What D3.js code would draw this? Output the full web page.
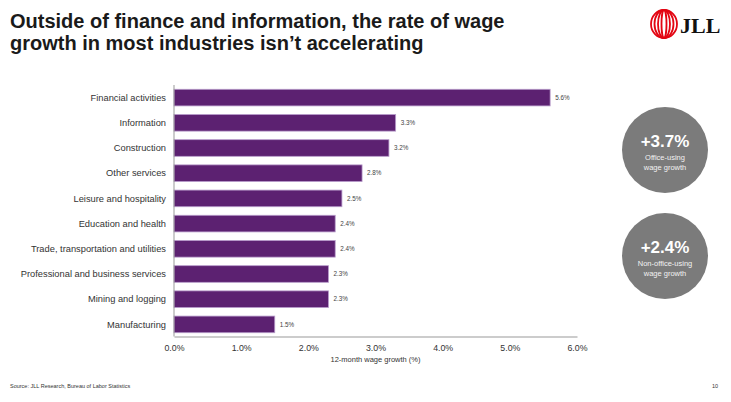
<!DOCTYPE html>
<html>
<head>
<meta charset="utf-8">
<script src="https://cdn.jsdelivr.net/npm/d3@7"></script>
<style>
  body { margin: 0; background: #fff; }
</style>
</head>
<body>
<div id="chart"></div>
<script>
// industries, top to bottom
var industries = ["Financial activities", "Information", "Construction", "Other services",
  "Leisure and hospitality", "Education and health", "Trade, transportation and utilities",
  "Professional and business services", "Mining and logging", "Manufacturing"];
var growth = [5.6, 3.3, 3.2, 2.8, 2.5, 2.4, 2.4, 2.3, 2.3, 1.5];
var xTicks = [0, 1, 2, 3, 4, 5, 6];

// side bubbles
var bubbleValues = ["+3.7%", "+2.4%"];
var bubbleLabels = [["Office-using", "wage growth"], ["Non-office-using", "wage growth"]];

var sans = "Liberation Sans, Arial, sans-serif";

var svg = d3.select("#chart").append("svg")
    .attr("width", 731)
    .attr("height", 402)
    .attr("font-family", sans);

// title
var title = svg.append("text")
    .attr("font-size", 20)
    .attr("font-weight", "bold")
    .attr("fill", "#1a1a1a");
title.append("tspan").attr("x", 10).attr("y", 28).text("Outside of finance and information, the rate of wage");
title.append("tspan").attr("x", 10).attr("y", 50).text("growth in most industries isn\u2019t accelerating");

// logo
var logo = svg.append("g").attr("transform", "translate(664,24)");
[13, 9.5, 6, 2.5].forEach(function (rx) {
  logo.append("ellipse")
      .attr("rx", rx).attr("ry", 14)
      .attr("fill", "none")
      .attr("stroke", "#e30613")
      .attr("stroke-width", 1.8);
});
svg.append("text")
    .attr("x", 680).attr("y", 33)
    .attr("font-family", "Liberation Serif, serif")
    .attr("font-weight", "bold")
    .attr("font-size", 22)
    .attr("fill", "#111")
    .text("JLL");

// scales
var x = d3.scaleLinear().domain([0, 6]).range([174, 577]);
var y = d3.scaleBand().domain(industries).range([85, 337]).paddingInner(0.34).paddingOuter(0.17);

// bars
svg.selectAll("rect.bar")
    .data(industries)
    .enter()
    .append("rect")
    .attr("class", "bar")
    .attr("x", x(0))
    .attr("y", function (d) { return y(d); })
    .attr("width", function (d, i) { return x(growth[i]) - x(0); })
    .attr("height", y.bandwidth())
    .attr("fill", "#5c2171")
    .attr("stroke", "#b89ccb")
    .attr("stroke-width", 0.8);

// value labels
svg.selectAll("text.val")
    .data(industries)
    .enter()
    .append("text")
    .attr("class", "val")
    .attr("x", function (d, i) { return x(growth[i]) + 5; })
    .attr("y", function (d) { return y(d) + y.bandwidth() / 2; })
    .attr("dy", "0.35em")
    .attr("font-size", 6.3)
    .attr("fill", "#444")
    .text(function (d, i) { return growth[i].toFixed(1) + "%"; });

// category labels
svg.selectAll("text.cat")
    .data(industries)
    .enter()
    .append("text")
    .attr("class", "cat")
    .attr("x", 166)
    .attr("y", function (d) { return y(d) + y.bandwidth() / 2; })
    .attr("dy", "0.35em")
    .attr("text-anchor", "end")
    .attr("font-size", 9.3)
    .attr("fill", "#333")
    .text(function (d) { return d; });

// axes
svg.append("line")
    .attr("x1", x(0)).attr("x2", x(0))
    .attr("y1", 85).attr("y2", 336.5)
    .attr("stroke", "#999").attr("stroke-width", 1);

var xAxis = svg.append("g")
    .attr("transform", "translate(0,336.5)")
    .call(d3.axisBottom(x).tickValues(xTicks).tickSize(0).tickPadding(8)
      .tickFormat(function (d) { return d.toFixed(1) + "%"; }));
xAxis.select(".domain").attr("stroke", "#999");
xAxis.selectAll("text")
    .attr("font-family", sans)
    .attr("font-size", 8.8)
    .attr("fill", "#333");

svg.append("text")
    .attr("x", x(3))
    .attr("y", 362)
    .attr("text-anchor", "middle")
    .attr("font-size", 7.5)
    .attr("fill", "#333")
    .text("12-month wage growth (%)");

// bubbles
var bubbleY = [150, 256];
bubbleValues.forEach(function (v, i) {
  var g = svg.append("g").attr("transform", "translate(665," + bubbleY[i] + ")");
  g.append("circle").attr("r", 43).attr("fill", "#7b7b7b");
  g.append("text")
      .attr("y", -3)
      .attr("text-anchor", "middle")
      .attr("font-size", 17)
      .attr("font-weight", "bold")
      .attr("fill", "#fff")
      .text(v);
  bubbleLabels[i].forEach(function (l, j) {
    g.append("text")
        .attr("y", 10 + j * 10)
        .attr("text-anchor", "middle")
        .attr("font-size", 7.5)
        .attr("fill", "#f2f2f2")
        .text(l);
  });
});

// footer
svg.append("text")
    .attr("x", 10).attr("y", 388)
    .attr("font-size", 5.5)
    .attr("fill", "#333")
    .text("Source: JLL Research, Bureau of Labor Statistics");
svg.append("text")
    .attr("x", 718).attr("y", 388)
    .attr("text-anchor", "end")
    .attr("font-size", 5.5)
    .attr("fill", "#333")
    .text("10");
</script>
</body>
</html>
